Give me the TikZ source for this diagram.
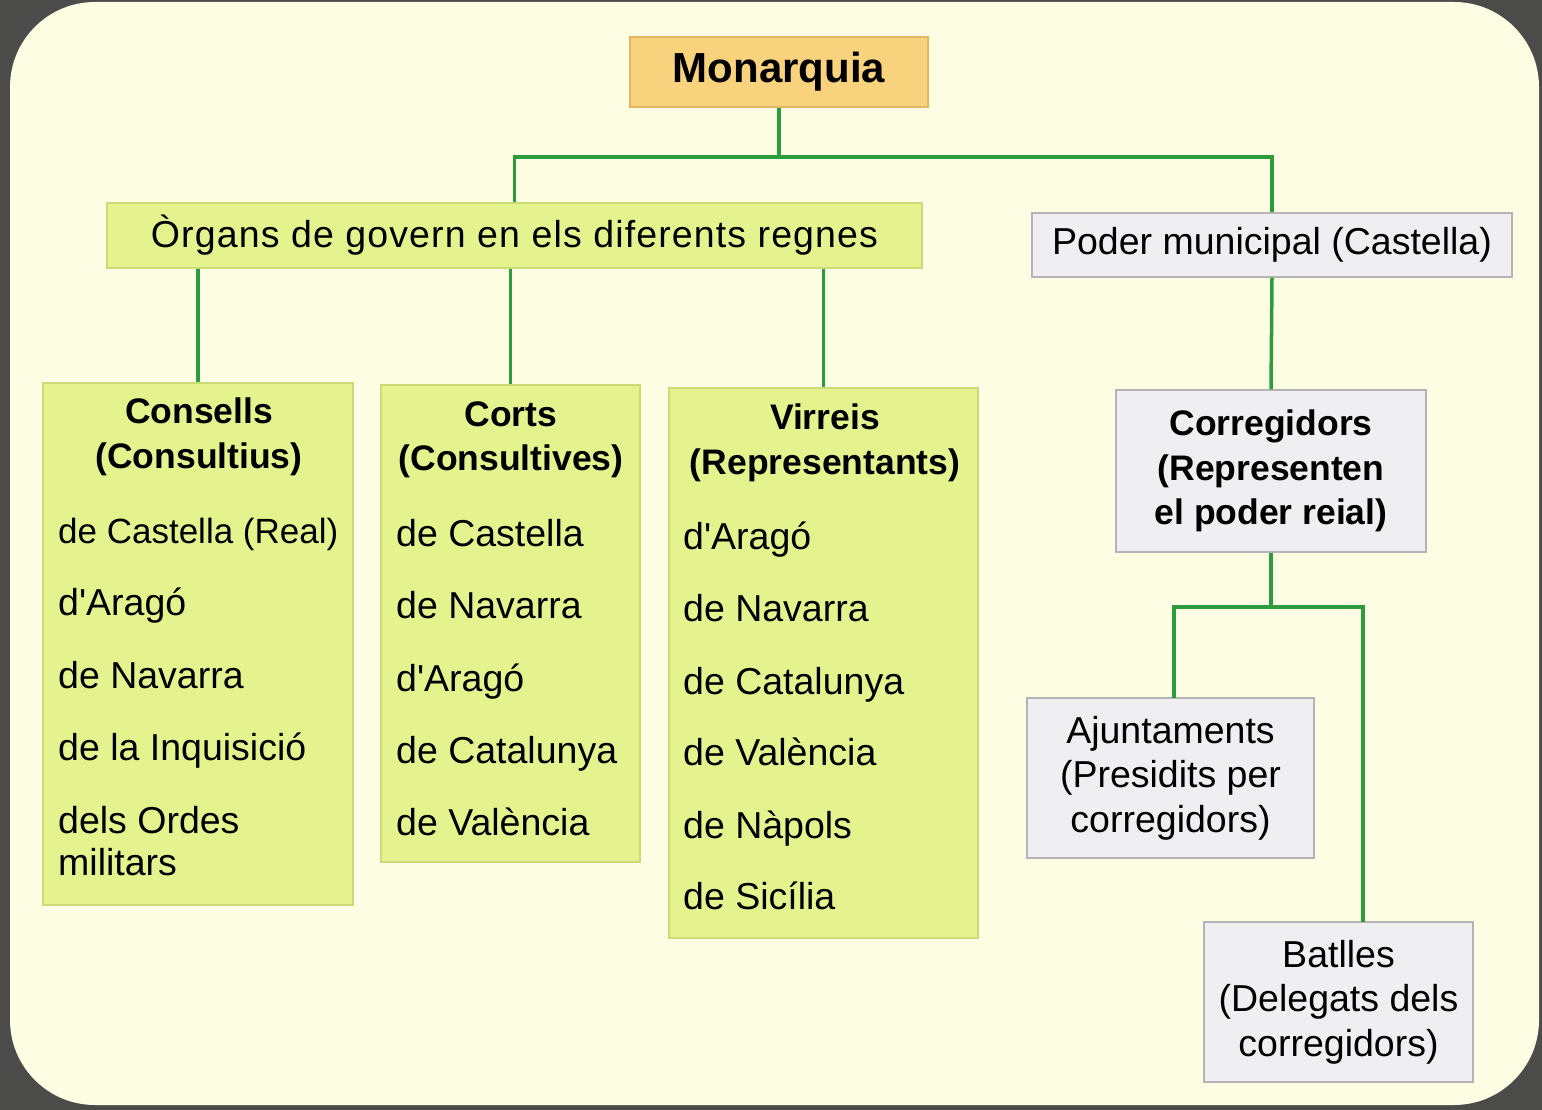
\documentclass[tikz,border=0pt]{standalone}
\usepackage{fontspec}
\setmainfont{Liberation Sans}
\newfontfamily\spacedfont[LetterSpace=3]{Liberation Sans}
\definecolor{framegray}{HTML}{4B4B49}
\definecolor{paper}{HTML}{FDFDE4}
\definecolor{boxgreen}{HTML}{E5F38E}
\definecolor{boxgreenedge}{HTML}{CBDA78}
\definecolor{boxgray}{HTML}{EFEFF1}
\definecolor{boxgrayedge}{HTML}{B4B4B8}
\definecolor{boxorange}{HTML}{F8D27C}
\definecolor{boxorangeedge}{HTML}{E2B762}
\definecolor{linegreen}{HTML}{2E9C3C}
\newcommand\regfont{\fontsize{37.5}{44.5}\selectfont}
\newcommand\bldfont{\fontsize{35.5}{44.5}\selectfont\bfseries}
\newcommand\apos{\textquotesingle}
\begin{document}
\begin{tikzpicture}[x=1pt,y=-1pt,
  box/.style={draw, line width=1.2pt, inner sep=0pt, font=\regfont, align=center},
  gbox/.style={box, fill=boxgreen, draw=boxgreenedge},
  wbox/.style={box, fill=boxgray, draw=boxgrayedge},
  obox/.style={box, fill=boxorange, draw=boxorangeedge},
  conn/.style={draw=linegreen, line width=3.5pt},
  item/.style={anchor=base west, inner sep=0pt, font=\regfont},
  ttl/.style={align=center, font=\bldfont, inner sep=0pt}]
\useasboundingbox (0,0) rectangle (1542,1110);
\fill[framegray] (0,0) rectangle (1542,1110);
\fill[paper, rounded corners=85pt] (10,2) rectangle (1539,1105);

% top level
\node[obox, minimum width=298pt, minimum height=70pt, font=\fontsize{42}{48}\selectfont\bfseries] (mon) at (779,72) {Monarquia};
\node[gbox, minimum width=815pt, minimum height=65pt, font=\spacedfont\fontsize{37.5}{44.5}\selectfont] (org) at (514.5,235.5) {Òrgans de govern en els diferents regnes};
\node[wbox, minimum width=480pt, minimum height=64pt] (pod) at (1272,245) {Poder municipal (Castella)};

% three green columns
\node[gbox, minimum width=310pt, minimum height=522pt] (cons) at (198,644) {};
\node[gbox, minimum width=259pt, minimum height=477pt] (corts) at (510.5,623.5) {};
\node[gbox, minimum width=309pt, minimum height=550pt] (virr) at (823.5,663) {};

\node[ttl] (consT) at (199,437) {Consells\\(Consultius)};
\node[item, font=\fontsize{35}{44.5}\selectfont] (c1) at (58,543) {de Castella (Real)};
\node[item] (c2) at (58,615) {d\apos Aragó};
\node[item] (c3) at (58,688) {de Navarra};
\node[item] (c4) at (58,760) {de la Inquisició};
\node[item] (c5) at (58,833) {dels Ordes};
\node[item] (c6) at (58,875) {militars};

\node[ttl] (cortsT) at (511,440) {Corts\\(Consultives)};
\node[item] (k1) at (396,546) {de Castella};
\node[item] (k2) at (396,618) {de Navarra};
\node[item] (k3) at (396,691) {d\apos Aragó};
\node[item] (k4) at (396,763) {de Catalunya};
\node[item] (k5) at (396,835) {de València};

\node[ttl] (virrT) at (825,443) {Virreis\\(Representants)};
\node[item] (v1) at (683,549) {d\apos Aragó};
\node[item] (v2) at (683,621) {de Navarra};
\node[item] (v3) at (683,694) {de Catalunya};
\node[item] (v4) at (683,765) {de València};
\node[item] (v5) at (683,838) {de Nàpols};
\node[item] (v6) at (683,909) {de Sicília};

% municipal branch
\node[wbox, minimum width=310pt, minimum height=162pt, font=\bldfont] (corr) at (1271,471) {Corregidors\\(Representen\\el poder reial)};
\node[wbox, minimum width=287pt, minimum height=160pt] (ajun) at (1170.5,778) {Ajuntaments\\(Presidits per\\corregidors)};
\node[wbox, minimum width=269pt, minimum height=160pt] (batl) at (1338.5,1002) {Batlles\\(Delegats dels\\corregidors)};

% connectors
\coordinate (bar) at (0,157);
\coordinate (bar2) at (0,607);
\coordinate (bt) at (1363,922);
\coordinate (at) at (1174,698);
\draw[conn] (mon.south) -- (mon.south |- bar);
\draw[conn] (org.north) -- (org.north |- bar) -- (pod.north |- bar) -- (pod.north);
\draw[conn] (org.south -| cons.north) -- (cons.north);
\draw[conn] (org.south -| corts.north) -- (corts.north);
\draw[conn] (org.south -| virr.north) -- (virr.north);
\draw[conn] (pod.south) -- (corr.north);
\draw[conn] (corr.south) -- (corr.south |- bar2);
\draw[conn] (at) -- (at |- bar2) -- (bt |- bar2) -- (bt);
\end{tikzpicture}
\end{document}
